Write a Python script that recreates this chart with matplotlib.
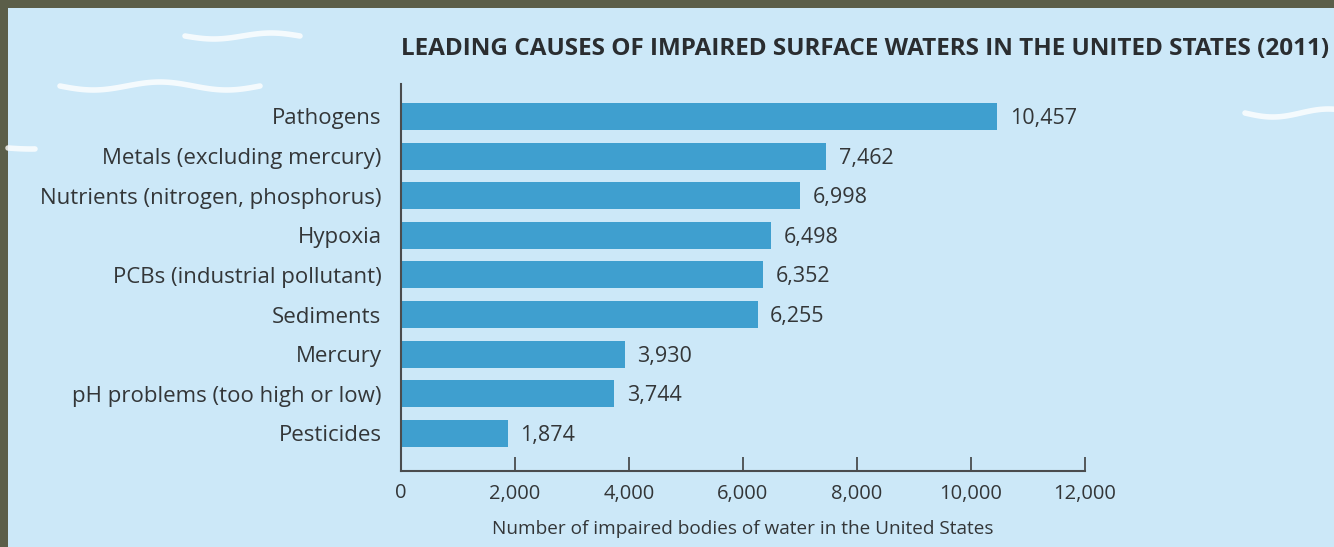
import numpy as np
import matplotlib
matplotlib.use("Agg")
import matplotlib.pyplot as plt
import matplotlib.patches as pc

causes = ["Pathogens", "Metals (excluding mercury)", "Nutrients (nitrogen, phosphorus)",
          "Hypoxia", "PCBs (industrial pollutant)", "Sediments", "Mercury",
          "pH problems (too high or low)", "Pesticides"]
counts = [10457, 7462, 6998, 6498, 6352, 6255, 3930, 3744, 1874]
xticks = [0, 2000, 4000, 6000, 8000, 10000, 12000]

W, H = 1334, 547
bg = "#cce8f8"
bar_col = "#3f9fcf"
txt = "#333638"

plt.rcParams['font.family'] = ['Open Sans', 'DejaVu Sans']

fig = plt.figure(figsize=(W / 100, H / 100), dpi=100)
fig.patch.set_facecolor("#5b5e49")

# light blue panel inside the olive border
fig.patches.append(pc.Rectangle((8 / W, 0), 1, 1 - 8 / H, transform=fig.transFigure,
                                facecolor=bg, edgecolor="none", zorder=-2))

# white wavy strokes (decoration)
def wave(x0, x1, y, amp=3, periods=1.5):
    t = np.linspace(0, 1, 80)
    xs = x0 + (x1 - x0) * t
    ys = y + amp * np.sin(2 * np.pi * periods * t)
    fig.add_artist(plt.Line2D(xs / W, 1 - ys / H, transform=fig.transFigure,
                              color="white", lw=4, alpha=0.8, solid_capstyle="round", zorder=-1))

wave(185, 300, 36, 3, 1.0)
wave(60, 260, 86, 4, 1.5)
wave(8, 35, 148, 1, 0.3)
wave(1245, 1334, 113, 4, 0.8)

ax = fig.add_axes([401 / W, 1 - 471 / H, 684 / W, (471 - 84) / H])
ax.set_facecolor("none")

y = np.arange(len(causes))
ax.barh(y, counts, height=0.68, color=bar_col, zorder=2)
for yi, v in zip(y, counts):
    ax.text(v + 220, yi + 0.05, f"{v:,}", va="center", ha="left", fontsize=15.5, color=txt)

ax.set_xlim(0, 12000)
ax.set_ylim(8.95, -0.82)
ax.set_yticks(y)
ax.set_yticklabels(causes, fontsize=16, color=txt)
ax.tick_params(axis="y", length=0, pad=14)
ax.set_xticks(xticks)
ax.set_xticklabels([f"{t:,}" for t in xticks], fontsize=14.5, color=txt)
ax.tick_params(axis="x", direction="in", length=10, width=1.3, color="#4a4c4e", pad=9)

for s in ["top", "right"]:
    ax.spines[s].set_visible(False)
for s in ["left", "bottom"]:
    ax.spines[s].set_color("#4a4c4e")
    ax.spines[s].set_linewidth(1.5)

ax.set_xlabel("Number of impaired bodies of water in the United States",
              fontsize=13.7, color=txt, labelpad=12)

fig.text(401 / W, 1 - 48.5 / H,
         "LEADING CAUSES OF IMPAIRED SURFACE WATERS IN THE UNITED STATES (2011)",
         fontsize=17.5, fontweight="bold", color="#2a2d30", ha="left", va="center")

fig.savefig("out.png", dpi=100, facecolor=fig.get_facecolor())
